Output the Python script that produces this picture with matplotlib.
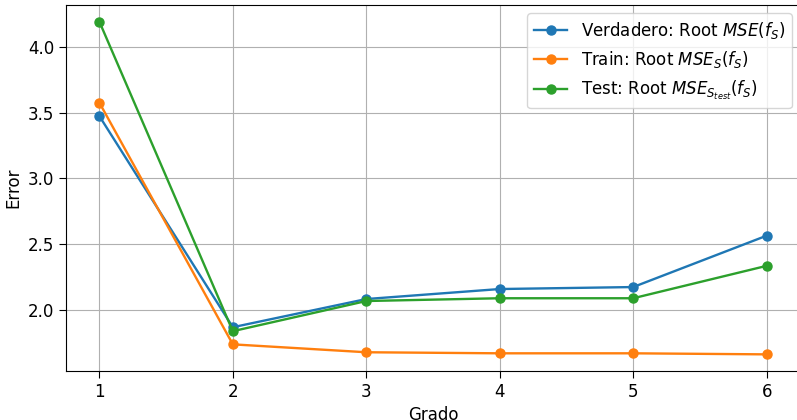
import matplotlib
matplotlib.use("Agg")
import matplotlib.pyplot as plt

# datos
grados = [1, 2, 3, 4, 5, 6]
err_verdadero = [3.473, 1.87, 2.084, 2.16, 2.175, 2.565]
err_train = [3.575, 1.74, 1.68, 1.672, 1.672, 1.664]
err_test = [4.19, 1.84, 2.069, 2.09, 2.09, 2.336]

plt.rcParams['font.size'] = 12
plt.rcParams['xtick.major.size'] = 5
plt.rcParams['ytick.major.size'] = 5

fig = plt.figure(figsize=(7.97, 4.20), dpi=100)
# la imagen original esta recortada: el eje derecho queda fuera
ax = fig.add_axes([66/797, 49/420, 734/797, 366/420])

ax.plot(grados, err_verdadero, 'o-', lw=1.7, ms=6.5, label=r"Verdadero: Root $MSE(f_S)$")
ax.plot(grados, err_train, 'o-', lw=1.7, ms=6.5, label=r"Train: Root $MSE_S(f_S)$")
ax.plot(grados, err_test, 'o-', lw=1.7, ms=6.5, label=r"Test: Root $MSE_{S_{test}}(f_S)$")

ax.set_xlabel("Grado")
ax.set_ylabel("Error")
ax.grid(True)
ax.legend(loc="upper right")

fig.savefig("out.png", dpi=100)
